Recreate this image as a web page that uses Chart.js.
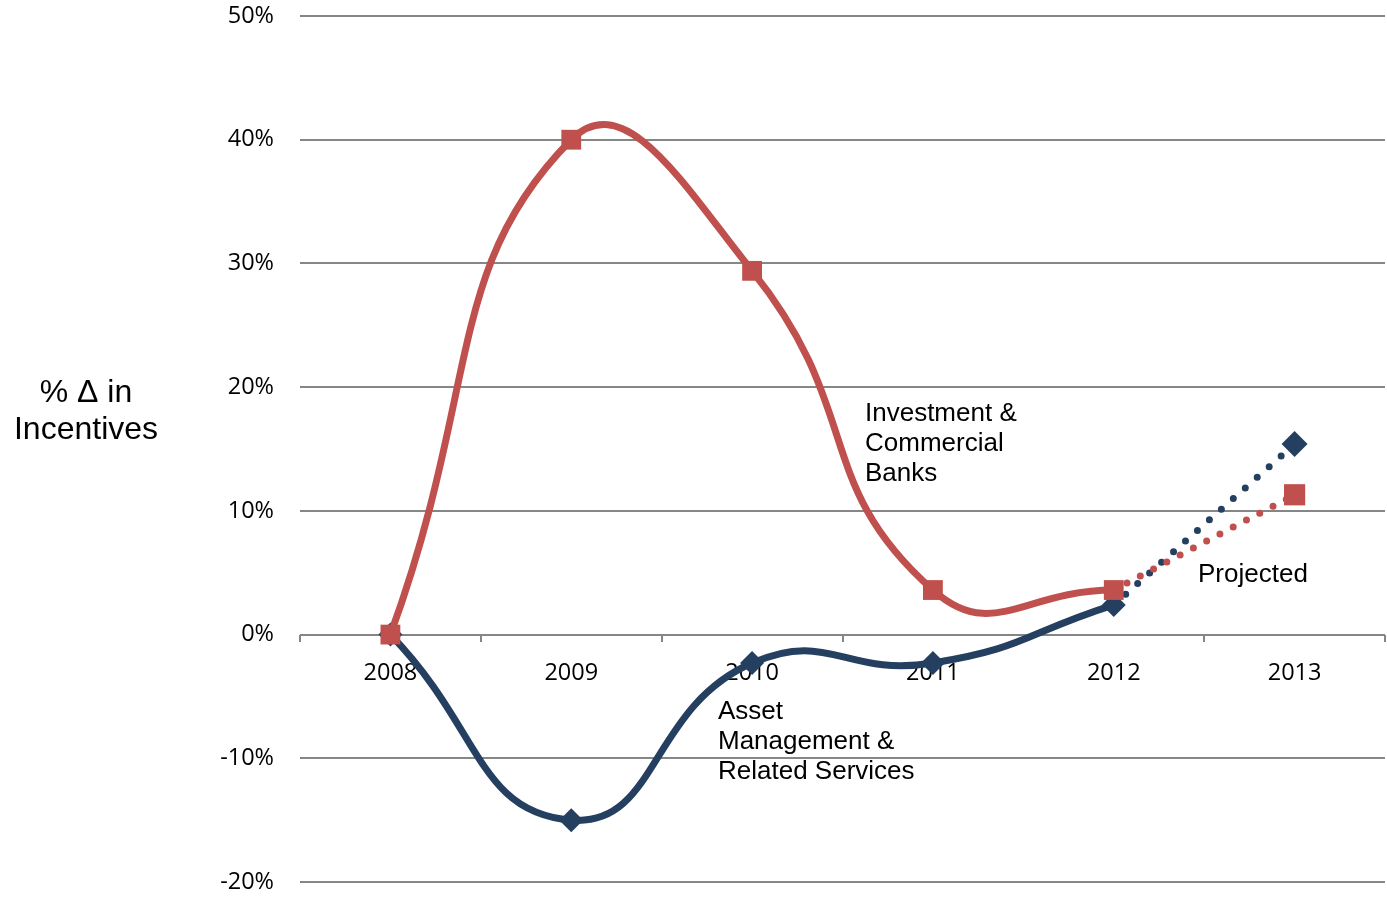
<!DOCTYPE html>
<html>
<head>
<meta charset="utf-8">
<script src="https://cdn.jsdelivr.net/npm/chart.js@4"></script>
<style>
  html, body { margin: 0; padding: 0; background: #fff; overflow: hidden; }
  /* a little wider than the window: the layout keeps ~15px on the right for the x labels */
  #wrap { width: 1400px; height: 898px; position: relative; }
</style>
</head>
<body>
<div id="wrap"><canvas id="incentivesChart"></canvas></div>
<script>
// chart values (percent change)
let years = ['2008', '2009', '2010', '2011', '2012', '2013'];
let banksActual = [0, 40, 29.4, 3.6, 3.6, null];
let banksProjected = [null, null, null, null, 3.6, 11.3];
let assetActual = [0, -15, -2.3, -2.3, 2.4, null];
let assetProjected = [null, null, null, null, 2.4, 15.4];
let yTicks = [-20, -10, 0, 10, 20, 30, 40, 50];

let red = '#C0504D';
let navy = '#243F60';
let gridGrey = '#868686';

// free text on the plot: axis title and series notes
let notes = [
  { lines: ['% \u0394 in', 'Incentives'], x: 86, y: 393, size: 32, align: 'center', gap: 37 },
  { lines: ['Investment &', 'Commercial', 'Banks'], x: 865, y: 414, size: 26, align: 'left', gap: 30 },
  { lines: ['Asset', 'Management &', 'Related Services'], x: 718, y: 712, size: 26, align: 'left', gap: 30 },
  { lines: ['Projected'], x: 1198, y: 575, size: 26, align: 'left', gap: 30 }
];

let notesPlugin = {
  id: 'notes',
  afterDraw: function (chart) {
    let ctx = chart.ctx;
    ctx.save();
    ctx.fillStyle = '#000';
    ctx.textBaseline = 'middle';
    notes.forEach(function (n) {
      ctx.font = n.size + 'px "Liberation Sans", Arial, sans-serif';
      ctx.textAlign = n.align;
      n.lines.forEach(function (line, i) {
        ctx.fillText(line, n.x, n.y + i * n.gap);
      });
    });
    ctx.restore();
  }
};

function pointSizes(values, r) {
  return values.map(function (v, i) { return (v !== null && i === values.length - 1) ? r : 0; });
}

// keep the scales from reserving room for their labels; layout.padding sets the plot edges
function noScalePadding(scale) {
  scale.paddingLeft = 0;
  scale.paddingRight = 0;
  scale.paddingTop = 0;
  scale.paddingBottom = 0;
}

let incentivesChart = new Chart(document.getElementById('incentivesChart').getContext('2d'), {
  type: 'line',
  data: {
    labels: years,
    datasets: [
      {
        label: 'Investment & Commercial Banks',
        data: banksActual,
        borderColor: red,
        backgroundColor: red,
        borderWidth: 7,
        tension: 0.5,
        pointStyle: 'rect',
        pointRadius: 14,
        pointBorderWidth: 0,
        pointHoverRadius: 14
      },
      {
        label: 'Investment & Commercial Banks (projected)',
        data: banksProjected,
        borderColor: red,
        backgroundColor: red,
        borderWidth: 7,
        borderDash: [0, 15],
        borderCapStyle: 'round',
        pointStyle: 'rect',
        pointRadius: pointSizes(banksProjected, 15),
        pointBorderWidth: 0
      },
      {
        label: 'Asset Management & Related Services',
        data: assetActual,
        borderColor: navy,
        backgroundColor: navy,
        borderWidth: 7,
        tension: 0.5,
        pointStyle: 'rectRot',
        pointRadius: 12,
        pointBorderWidth: 0,
        pointHoverRadius: 12
      },
      {
        label: 'Asset Management & Related Services (projected)',
        data: assetProjected,
        borderColor: navy,
        backgroundColor: navy,
        borderWidth: 7,
        borderDash: [0, 16],
        borderCapStyle: 'round',
        pointStyle: 'rectRot',
        pointRadius: pointSizes(assetProjected, 13),
        pointBorderWidth: 0
      }
    ]
  },
  options: {
    responsive: true,
    maintainAspectRatio: false,
    animation: false,
    layout: { padding: { top: 16, bottom: 16, left: 0, right: 2 } },
    plugins: {
      legend: { display: false },
      tooltip: { enabled: false }
    },
    scales: {
      x: {
        position: { y: 0 },
        offset: true,
        z: 1,
        afterFit: function (scale) {
          scale.height = 0;
          noScalePadding(scale);
        },
        border: { display: false },
        grid: {
          offset: true,
          drawOnChartArea: false,
          drawTicks: true,
          tickLength: 7,
          color: gridGrey,
          lineWidth: 2
        },
        ticks: {
          color: '#000',
          padding: 18,
          maxRotation: 0,
          font: { family: '"Open Sans", sans-serif', size: 23.5 }
        }
      },
      y: {
        min: yTicks[0],
        max: yTicks[yTicks.length - 1],
        afterFit: function (scale) {
          scale.width = 300;
          noScalePadding(scale);
        },
        afterBuildTicks: function (scale) {
          scale.ticks = yTicks.map(function (v) { return { value: v }; });
        },
        border: { display: false },
        grid: {
          color: gridGrey,
          lineWidth: 2,
          drawTicks: false
        },
        ticks: {
          color: '#000',
          padding: 26,
          font: { family: '"Open Sans", sans-serif', size: 23.5 },
          callback: function (v) { return v + '%'; }
        }
      }
    }
  },
  plugins: [notesPlugin]
});
</script>
</body>
</html>
